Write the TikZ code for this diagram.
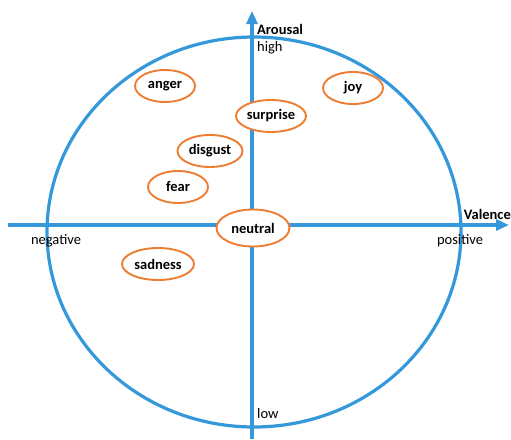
\documentclass[tikz,border=0pt]{standalone}
\usepackage{fontspec}
\setmainfont{Carlito}
\usepackage{tikz}
\usetikzlibrary{arrows.meta, shapes.geometric}

\definecolor{axisblue}{RGB}{52,152,219}
\definecolor{emoorange}{RGB}{237,125,49}

\begin{document}
\begin{tikzpicture}[
    x=1pt, y=-1pt,
    emotion/.style={draw=emoorange, fill=white, line width=1.9pt, ellipse, inner sep=0pt,
        minimum width=60pt, minimum height=32pt, font=\bfseries\fontsize{14.5}{16}\selectfont},
    axis/.style={-{Triangle[width=11pt, length=13pt]}, line width=3.2pt, draw=axisblue},
    lbl/.style={inner sep=0pt, font=\fontsize{14.5}{16}\selectfont}
]
    \useasboundingbox (0,0) rectangle (511,439);

    % circle and axes
    \draw[line width=3.2pt, axisblue] (254,232) ellipse [x radius=207, y radius=195];
    \coordinate (vlow)  at (252,439);
    \coordinate (vhigh) at (252,11);
    \coordinate (hneg)  at (8,225);
    \coordinate (hpos)  at (509,225);
    \draw[axis] (vlow) -- (vhigh);
    \draw[axis] (hneg) -- (hpos);

    % axis labels
    \node[lbl, font=\bfseries\fontsize{14.5}{16}\selectfont, anchor=west] (arousal) at (257,29) {Arousal};
    \node[lbl, anchor=west] (high) at (257,48) {high};
    \node[lbl, anchor=west] (low) at (257,414) {low};
    \node[lbl, font=\bfseries\fontsize{14.5}{16}\selectfont, anchor=east] (valence) at (511,214) {Valence};
    \node[lbl] (negative) at (56,241) {negative};
    \node[lbl] (positive) at (460,241) {positive};

    % emotions
    \node[emotion] (anger)   at (165,86)  {anger};
    \node[emotion, minimum width=70pt] (surprise) at (271,116) {surprise};
    \node[emotion] (joy)     at (353,88)  {joy};
    \node[emotion, minimum width=65pt] (disgust) at (210,151) {disgust};
    \node[emotion] (fear)    at (178,187) {fear};
    \node[emotion, minimum width=73pt, minimum height=37pt] (neutral) at (253,228) {neutral};
    \node[emotion, minimum width=72pt] (sadness) at (158,264) {sadness};
\end{tikzpicture}
\end{document}
